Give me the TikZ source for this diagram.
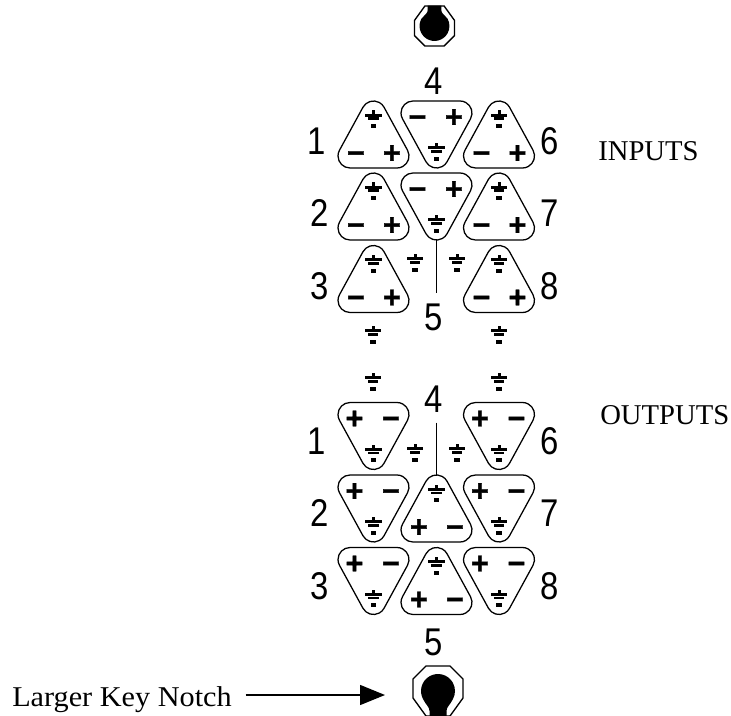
\documentclass[tikz,border=0pt]{standalone}
\usepackage{fontspec}
\usepackage{tikz}
\usetikzlibrary{arrows.meta}
\setmainfont{Liberation Serif}
\newfontfamily\pinfont{Liberation Sans}[FakeStretch=0.85]
\newfontfamily\polarfont{Liberation Sans}[FakeBold=1.2]
\tikzset{pinlabel/.style={font=\pinfont\fontsize{29}{30}\selectfont,inner sep=7.5pt},
         polarsign/.style={font=\polarfont\bfseries\fontsize{23}{24}\selectfont,inner sep=0,text height=16pt,text depth=0pt},
         captiontext/.style={font=\fontsize{21.5}{24}\selectfont,anchor=base west,inner sep=0},
         pics/earth/.style={code={
            \fill (-1.5,9) rectangle (1.5,5.7);
            \fill (-8.3,5.9) rectangle (8.3,2.9);
            \fill (-5.2,2) rectangle (5.2,-.6);
            \fill (-2.7,-4.6) rectangle (2.7,-8.9);}},
         pics/celledge/.style={code={
            \draw[line width=.95pt] (-10.53,27.26) arc (151.34:28.66:9pt) -- (34.03,-15.74)
                arc (28.66:-90:9pt) -- (-23.5,-33.5) arc (-90:-208.66:9pt) -- cycle;}},
         pics/upcell/.style 2 args={code={
            \pic {celledge};
            \coordinate (-tip) at (0,33.5);
            \pic at (0,15) {earth};
            \node[polarsign] at (-17.5,-18) {#1};
            \node[polarsign] at (18.5,-18) {#2};}},
         pics/downcell/.style 2 args={code={
            \pic[yscale=-1] {celledge};
            \coordinate (-tip) at (0,-33.5);
            \pic at (0,-17.5) {earth};
            \node[polarsign] at (-19,18) {#1};
            \node[polarsign] at (17.5,18) {#2};}},
         pics/keynotch/.style={code={
            \draw[line width=1pt,fill=white] (-25,12) -- (-12,25) -- (12,25) -- (25,12) -- (25,-7)
                -- (12,-25) -- (-12,-25) -- (-25,-7) -- cycle;
            \fill (-8.5,-25.5) -- (-8.5,-20) .. controls (-8.5,-16) and (-12,-14) .. (210:#1)
                arc (210:-30:#1*.75pt) .. controls (12,-14) and (8.5,-16) .. (8.5,-20) -- (8.5,-25.5) -- cycle;}}}
\begin{document}
\begin{tikzpicture}[x=.75pt,y=.75pt]
\useasboundingbox (0,0) rectangle (731,715);
    % key notches
    \pic[xscale=.8,yscale=-.8] at (434.5,689) {keynotch=18.7};
    \pic at (438,24) {keynotch=17};
    % inputs
    \pic (ina) at (373.5,580.5) {upcell={−}{+}};
    \pic (inb) at (373.5,508.5) {upcell={−}{+}};
    \pic (inc) at (373.5,436) {upcell={−}{+}};
    \pic (ind) at (436.5,580.5) {downcell={−}{+}};
    \pic (ine) at (436.5,508.5) {downcell={−}{+}};
    \pic (inf) at (499,580.5) {upcell={−}{+}};
    \pic (ing) at (499,508.5) {upcell={−}{+}};
    \pic (inh) at (499,436) {upcell={−}{+}};
    % outputs
    \pic (outa) at (373.5,279) {downcell={+}{−}};
    \pic (outb) at (373.5,206.5) {downcell={+}{−}};
    \pic (outc) at (373.5,134) {downcell={+}{−}};
    \pic (outd) at (436.5,206.5) {upcell={+}{−}};
    \pic (oute) at (436.5,134) {upcell={+}{−}};
    \pic (outf) at (499,279) {downcell={+}{−}};
    \pic (outg) at (499,206.5) {downcell={+}{−}};
    \pic (outh) at (499,134) {downcell={+}{−}};
    % loose grounds
    \foreach \px/\py in {415/452,457/452,373/380,499/380,373/333,499/333,415/262,457/262}
        \pic at (\px,\py) {earth};
    % pin numbers
    \node[pinlabel] (inone) at (317,574) {1};
    \node[pinlabel] (intwo) at (320,502) {2};
    \node[pinlabel] (inthree) at (320,429) {3};
    \node[pinlabel] (infour) at (434,634) {4};
    \node[pinlabel] (infive) at (434,398) {5};
    \node[pinlabel] (insix) at (550,574) {6};
    \node[pinlabel] (inseven) at (550,502) {7};
    \node[pinlabel] (ineight) at (550,429) {8};
    \node[pinlabel] (outone) at (317,274) {1};
    \node[pinlabel] (outtwo) at (320,202) {2};
    \node[pinlabel] (outthree) at (320,129) {3};
    \node[pinlabel] (outfour) at (434,316) {4};
    \node[pinlabel] (outfive) at (434,73) {5};
    \node[pinlabel] (outsix) at (550,274) {6};
    \node[pinlabel] (outseven) at (550,202) {7};
    \node[pinlabel] (outeight) at (550,129) {8};
    \draw[line width=.9pt] (ine-tip) -- (ine-tip |- infive.north);
    \draw[line width=.9pt] (outd-tip |- outfour.south) -- (outd-tip);
    % captions
    \node[captiontext] (inputs) at (598,554) {INPUTS};
    \node[captiontext] (outputs) at (600,291) {OUTPUTS};
    \node[captiontext,font=\addfontfeature{FakeStretch=1.055}\fontsize{21.5}{24}\selectfont] (notch) at (12,9) {Larger Key Notch};
    \coordinate (notchtail) at (245.5,20);
    \coordinate (notchtip) at (385,20);
    \draw[-{Triangle[length=18.75pt,width=15pt]},line width=1.1pt] (notchtail) -- (notchtip);
\end{tikzpicture}
\end{document}
